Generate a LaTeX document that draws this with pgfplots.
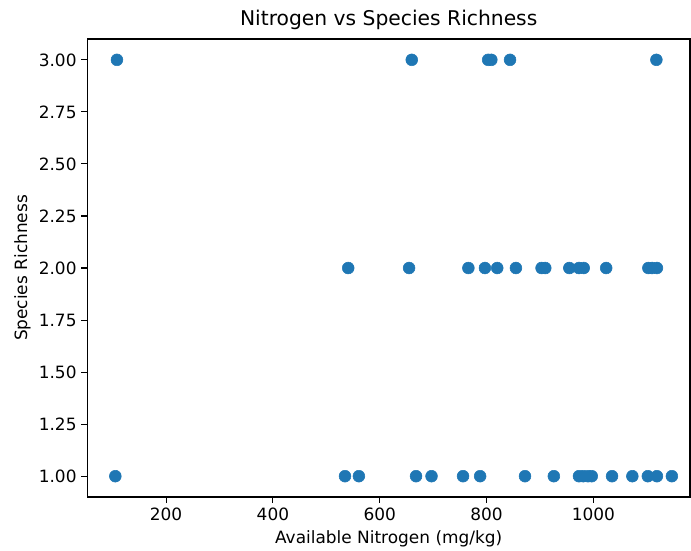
\documentclass[border=0pt]{standalone}
\usepackage{fontspec}
\setmainfont{DejaVu Sans}
\usepackage{pgfplots}
\pgfplotsset{compat=1.18}
\definecolor{mplblue}{HTML}{1F77B4}
\begin{document}
\begin{tikzpicture}
\begin{axis}[
  name=ax, at={(0,0)}, anchor=south west,
  scale only axis, width=434pt, height=329.8pt,
  xmin=52.6, xmax=1181, ymin=0.9, ymax=3.1,
  xtick={200,400,600,800,1000},
  ytick={1,1.25,1.5,1.75,2,2.25,2.5,2.75,3},
  yticklabel style={/pgf/number format/.cd, fixed, fixed zerofill, precision=2},
  xticklabel style={/pgf/number format/.cd, 1000 sep={}},
  /pgf/number format/assume math mode=true,
  tick align=outside, tick pos=left,
  major tick length=4.25pt,
  every tick/.style={black, line width=0.8pt},
  axis line style={line width=0.8pt},
  ticklabel style={font=\fontsize{12.2}{14}\selectfont},
  title={Nitrogen vs Species Richness},
  title style={font=\fontsize{14.6}{17}\selectfont, yshift=-3pt},
  xlabel={Available Nitrogen (mg/kg)},
  ylabel={Species Richness},
  label style={font=\fontsize{12.2}{14}\selectfont},
  xlabel style={yshift=0pt},
  ylabel style={yshift=-1pt},
]
\addplot[only marks, mark=*, mark size=4.25pt, color=mplblue, mark options={draw=mplblue, fill=mplblue}] coordinates {
(105,1) (535,1) (561,1) (668,1) (697,1) (756,1) (788,1) (872,1) (926,1)
(973,1) (981,1) (990,1) (997,1) (1035,1) (1073,1) (1102,1) (1119,1) (1147,1)
(541,2) (655,2) (766,2) (797,2) (820,2) (855,2) (903,2) (910,2) (955,2)
(973,2) (982,2) (1024,2) (1103,2) (1110,2) (1119,2)
(108,3) (660,3) (803,3) (809,3) (844,3) (1118,3)
};
\end{axis}
\pgfresetboundingbox
\path[use as bounding box] (-62.9pt,-38.2pt) rectangle (434.7pt,357.9pt);
\end{tikzpicture}
\end{document}
